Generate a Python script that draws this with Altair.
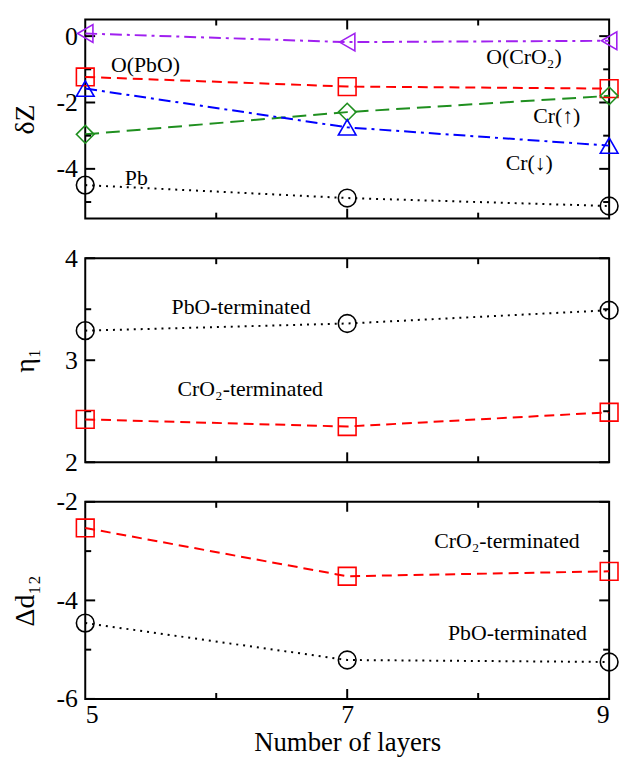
import altair as alt
import pandas as pd

FONT = "Liberation Serif"
W = 529

# ---------------- data ----------------
layers = [5, 7, 9]

dz_series = ["Pb", "O(PbO)", "Cr(↑)", "Cr(↓)", "O(CrO₂)"]
dz_pb = [-4.49, -4.88, -5.12]
dz_o_pbo = [-1.23, -1.52, -1.58]
dz_cr_up = [-2.96, -2.29, -1.80]
dz_cr_dn = [-1.58, -2.75, -3.30]
dz_o_cro2 = [0.08, -0.18, -0.14]

eta_series = ["PbO-terminated", "CrO₂-terminated"]
eta_pbo = [3.29, 3.36, 3.49]
eta_cro2 = [2.42, 2.35, 2.49]

dd_series = ["PbO-terminated", "CrO₂-terminated"]
dd_pbo = [-4.46, -5.21, -5.25]
dd_cro2 = [-2.53, -3.51, -3.41]

dz_labels = ["O(PbO)", "O(CrO₂)", "Cr(↑)", "Cr(↓)", "Pb"]
dz_label_x = [5.46, 8.35, 8.60, 8.39, 5.39]
dz_label_y = [-0.86, -0.64, -2.40, -3.82, -4.29]

eta_labels = ["PbO-terminated", "CrO₂-terminated"]
eta_label_x = [6.19, 6.26]
eta_label_y = [3.52, 2.72]

dd_labels = ["CrO₂-terminated", "PbO-terminated"]
dd_label_x = [8.22, 8.30]
dd_label_y = [-2.80, -4.66]

x_major = [7]
x_minor = [6, 8]

# ---------------- styles ----------------
dz_colors = ["black", "#ff0000", "#1f8f1f", "#0000ff", "#a020f0"]
dz_shapes = ["circle", "square", "diamond", "triangle-up", "triangle-left"]
dz_dashes = [[2, 5], [10, 6], [14, 7], [12, 5, 3, 5], [12, 5, 3, 5]]

pair_colors = ["black", "#ff0000"]
pair_shapes = ["circle", "square"]
pair_dashes = [[2, 5], [10, 6]]


def long_df(series, values):
    rows = []
    for s, vals in zip(series, values):
        for x, y in zip(layers, vals):
            rows.append({"x": x, "y": y, "s": s})
    return pd.DataFrame(rows)


def panel(df, lab, series, colors, shapes, dashes, ydom, ymaj, ymin, ytitle, h, bottom):
    xscale = alt.Scale(domain=[5, 9], nice=False, zero=False)
    if bottom:
        X = alt.X("x:Q", scale=xscale,
                  axis=alt.Axis(values=layers, ticks=False, domain=False, grid=False,
                                labelFont=FONT, labelFontSize=26,
                                labelColor="black", labelPadding=3,
                                titleFont=FONT, titleFontSize=27,
                                titleFontWeight="normal",
                                titleColor="black", titlePadding=2),
                  title="Number of layers")
    else:
        X = alt.X("x:Q", scale=xscale, axis=None)
    Y = alt.Y("y:Q", scale=alt.Scale(domain=ydom, nice=False, zero=False),
              axis=alt.Axis(values=ymaj, ticks=False, domain=False, grid=False,
                            labelExpr="datum.value + ''",
                            labelFont=FONT, labelFontSize=26, labelColor="black",
                            labelPadding=8, minExtent=30, maxExtent=30,
                            titleFont=FONT, titleFontSize=28,
                            titleFontWeight="normal", titleColor="black",
                            titlePadding=16),
              title=ytitle)
    color = alt.Color("s:N", scale=alt.Scale(domain=series, range=colors), legend=None)
    dash = alt.StrokeDash("s:N", scale=alt.Scale(domain=series, range=dashes), legend=None)
    shape = alt.Shape("s:N", scale=alt.Scale(domain=series, range=shapes), legend=None)

    lines = alt.Chart(df).mark_line(strokeWidth=2).encode(x=X, y=Y, color=color, strokeDash=dash)
    pts = alt.Chart(df).mark_point(filled=False, size=320, strokeWidth=1.6, opacity=1).encode(
        x=X, y=Y, color=color, shape=shape)
    txt = alt.Chart(lab).mark_text(font=FONT, fontSize=22, color="black",
                                   align="center", baseline="middle").encode(
        x=X, y=Y, text="t:N")

    xmaj = pd.DataFrame({"x": x_major})
    xmin = pd.DataFrame({"x": x_minor})
    ymj = pd.DataFrame({"y": ymaj})
    ymn = pd.DataFrame({"y": ymin})
    tk = dict(color="black", strokeWidth=2)
    ticks = [
        alt.Chart(xmaj).mark_rule(**tk).encode(x=X, y=alt.value(0), y2=alt.value(10)),
        alt.Chart(xmaj).mark_rule(**tk).encode(x=X, y=alt.value(h), y2=alt.value(h - 10)),
        alt.Chart(xmin).mark_rule(**tk).encode(x=X, y=alt.value(0), y2=alt.value(6)),
        alt.Chart(xmin).mark_rule(**tk).encode(x=X, y=alt.value(h), y2=alt.value(h - 6)),
        alt.Chart(ymj).mark_rule(**tk).encode(y=Y, x=alt.value(0), x2=alt.value(10)),
        alt.Chart(ymj).mark_rule(**tk).encode(y=Y, x=alt.value(W), x2=alt.value(W - 10)),
        alt.Chart(ymn).mark_rule(**tk).encode(y=Y, x=alt.value(0), x2=alt.value(6)),
        alt.Chart(ymn).mark_rule(**tk).encode(y=Y, x=alt.value(W), x2=alt.value(W - 6)),
    ]
    return alt.layer(lines, *ticks, pts, txt).properties(width=W, height=h)


dz_df = long_df(dz_series, [dz_pb, dz_o_pbo, dz_cr_up, dz_cr_dn, dz_o_cro2])
eta_df = long_df(eta_series, [eta_pbo, eta_cro2])
dd_df = long_df(dd_series, [dd_pbo, dd_cro2])

dz_lab = pd.DataFrame({"x": dz_label_x, "y": dz_label_y, "t": dz_labels})
eta_lab = pd.DataFrame({"x": eta_label_x, "y": eta_label_y, "t": eta_labels})
dd_lab = pd.DataFrame({"x": dd_label_x, "y": dd_label_y, "t": dd_labels})

p1 = panel(dz_df, dz_lab, dz_series, dz_colors, dz_shapes, dz_dashes,
           [-5.5, 0.5], [0, -2, -4], [-1, -3, -5], "δZ", 201, False)
p2 = panel(eta_df, eta_lab, eta_series, pair_colors, pair_shapes, pair_dashes,
           [2, 4], [2, 3, 4], [2.5, 3.5], "η₁", 206, False)
p3 = panel(dd_df, dd_lab, dd_series, pair_colors, pair_shapes, pair_dashes,
           [-6, -2], [-2, -4, -6], [-3, -5], "Δd₁₂", 199, True)

chart = alt.vconcat(p1, p2, p3, spacing=40, bounds="flush").properties(
    padding={"left": 3, "top": 6, "right": 0, "bottom": 0},
    background="white",
).configure_view(stroke="black", strokeWidth=2)

chart.save("out.html", embed_options={"renderer": "svg", "actions": False})
